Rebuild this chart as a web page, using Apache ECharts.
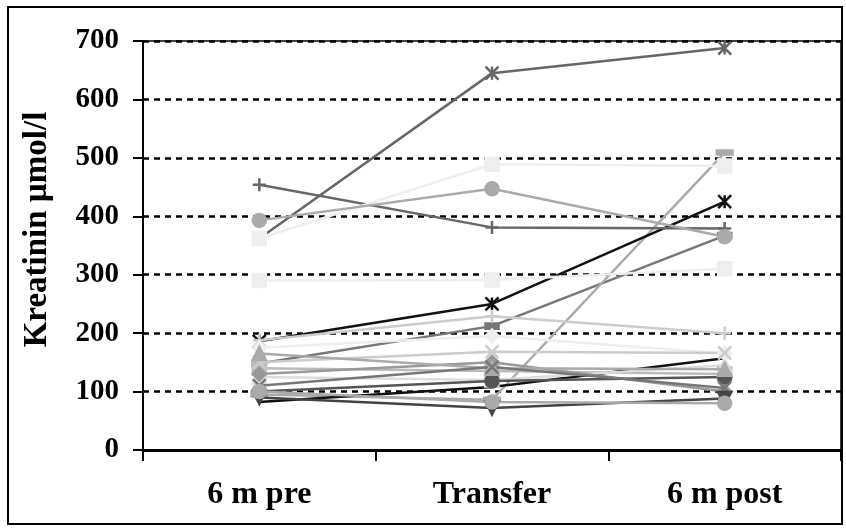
<!DOCTYPE html>
<html>
<head>
<meta charset="utf-8">
<script src="https://cdn.jsdelivr.net/npm/echarts@6/dist/echarts.min.js"></script>
<style>
  html, body { margin: 0; padding: 0; background: #fff; }
  #main { width: 846px; height: 531px; }
</style>
</head>
<body>
<div id="main"></div>
<script>
var categories = ['6 m pre', 'Transfer', '6 m post'];
var yTicks = [0, 100, 200, 300, 400, 500, 600, 700];

// one array per patient, values in µmol/l
var p01 = [362, 645, 688];
var p02 = [454, 381, 379];
var p03 = [393, 447, 365];
var p04 = [362, 489, 486];
var p05 = [290, 291, 310];
var p06 = [186, 250, 425];
var p07 = [148, 212, 367];
var p08 = [188, 229, 200];
var p09 = [95, 86, 509];
var p10 = [175, 195, 165];
var p11 = [150, 168, 166];
var p12 = [165, 140, 138];
var p13 = [110, 142, 106];
var p14 = [82, 108, 157];
var p15 = [90, 72, 88];
var p16 = [100, 82, 80];
var p17 = [140, 135, 130];
var p18 = [125, 120, 145];
var p19 = [130, 150, 100];
var p20 = [100, 118, 125];

var patients = [p01, p02, p03, p04, p05, p06, p07, p08, p09, p10,
                p11, p12, p13, p14, p15, p16, p17, p18, p19, p20];

var STAR = 'path://M0,0L10,10M10,0L0,10M5,0L5,10';
var PLUS = 'path://M5,0L5,10M0,5L10,5';
var CROSS = 'path://M0,0L10,10M10,0L0,10';

var looks = [
  { c: '#666666', s: STAR, z: 13 },
  { c: '#666666', s: PLUS, z: 14 },
  { c: '#aaaaaa', s: 'circle', z: 15 },
  { c: '#eeeeee', s: 'rect', z: 14 },
  { c: '#eeeeee', s: 'rect', z: 14 },
  { c: '#111111', s: STAR, z: 13 },
  { c: '#777777', s: 'rect', z: 10, sz: [12, 6] },
  { c: '#cccccc', s: PLUS, z: 14 },
  { c: '#aaaaaa', s: 'rect', z: 10, sz: [14, 5] },
  { c: '#eeeeee', s: 'diamond', z: 14 },
  { c: '#cccccc', s: CROSS, z: 14 },
  { c: '#aaaaaa', s: 'triangle', z: 14 },
  { c: '#777777', s: CROSS, z: 14 },
  { c: '#111111', s: 'none', z: 12 },
  { c: '#444444', s: 'triangle', z: 14, rot: 180 },
  { c: '#aaaaaa', s: 'circle', z: 14 },
  { c: '#bbbbbb', s: 'rect', z: 13 },
  { c: '#dddddd', s: 'triangle', z: 13 },
  { c: '#999999', s: 'diamond', z: 13 },
  { c: '#555555', s: 'circle', z: 13 }
];

var chartDom = document.getElementById('main');
var myChart = echarts.init(chartDom, null, { renderer: 'canvas' });

var serif = '"Liberation Serif", "Times New Roman", serif';

var option = {
  animation: false,
  backgroundColor: '#ffffff',
  graphic: [{
    type: 'rect',
    shape: { x: 8, y: 7, width: 834, height: 517 },
    style: { fill: 'none', stroke: '#000', lineWidth: 2 },
    silent: true
  }],
  grid: {
    left: 143, top: 41, right: 5, bottom: 81,
    show: true, borderColor: '#000', borderWidth: 1.5, backgroundColor: 'transparent'
  },
  xAxis: {
    type: 'category',
    data: categories,
    boundaryGap: true,
    axisLine: { lineStyle: { color: '#000', width: 3 } },
    axisTick: { show: true, length: 11, alignWithLabel: false, lineStyle: { color: '#000', width: 2 } },
    axisLabel: {
      margin: 29, color: '#000', fontFamily: serif, fontWeight: 'bold', fontSize: 32
    },
    splitLine: { show: false }
  },
  yAxis: {
    type: 'value',
    min: 0, max: 700, interval: 100,
    name: 'Kreatinin µmol/l',
    nameLocation: 'middle',
    nameRotate: 90,
    nameGap: 89,
    nameTextStyle: {
      color: '#000', fontFamily: serif, fontWeight: 'bold', fontSize: 33,
      padding: [0, 0, 0, 32]
    },
    axisLine: { show: true, lineStyle: { color: '#000', width: 2 } },
    axisTick: { show: true, length: 10, lineStyle: { color: '#000', width: 2 } },
    axisLabel: {
      margin: 24, color: '#000', fontFamily: serif, fontWeight: 'bold', fontSize: 29,
      formatter: function (v) { return yTicks.indexOf(v) >= 0 ? String(v) : ''; }
    },
    splitLine: { show: true, lineStyle: { color: '#000', width: 2.5, type: [6, 5] } }
  },
  series: patients.map(function (vals, i) {
    var lk = looks[i];
    return {
      type: 'line',
      data: vals,
      z: lk.z,
      symbol: lk.s,
      symbolSize: lk.sz || 13,
      symbolRotate: lk.rot || 0,
      showSymbol: lk.s !== 'none',
      lineStyle: { color: lk.c, width: 2.5 },
      itemStyle: { color: lk.c, borderColor: lk.c, borderWidth: 2.5 },
      emphasis: { disabled: true }
    };
  })
};

option && myChart.setOption(option);

window.onresize = function () {
  myChart.resize();
};
</script>
</body>
</html>
